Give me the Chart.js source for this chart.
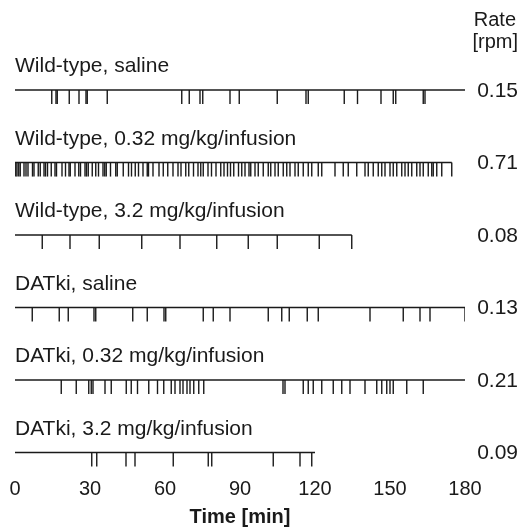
<!DOCTYPE html>
<html>
<head>
<meta charset="utf-8">
<script src="https://cdn.jsdelivr.net/npm/chart.js@4.4.1/dist/chart.umd.min.js"></script>
<style>
  html, body { margin: 0; padding: 0; background: #fff; }
  #wrap { width: 529px; height: 529px; }
</style>
</head>
<body>
<div id="wrap"><canvas id="raster" width="529" height="529"></canvas></div>
<script>
// row labels, rates and session lengths (min)
const groups = [
    "Wild-type, saline",
    "Wild-type, 0.32 mg/kg/infusion",
    "Wild-type, 3.2 mg/kg/infusion",
    "DATki, saline",
    "DATki, 0.32 mg/kg/infusion",
    "DATki, 3.2 mg/kg/infusion"
];
const rates = ["0.15", "0.71", "0.08", "0.13", "0.21", "0.09"];
const sessionEnd = [180, 174.7, 134.7, 180, 180, 120];
const timeTicks = [0, 30, 60, 90, 120, 150, 180];

// infusion times (min)
const wtSaline = [14.7, 16.4, 16.9, 21.7, 25.6, 28.4, 28.9, 36.9, 66.7, 69.7, 74, 75.1, 86, 89.7,
    104.9, 116.4, 117.3, 131.7, 137, 146.4, 151.3, 152.3, 163.3, 164];
const wtLow = [0.3, 0.8, 1.5, 2.1, 3.6, 4.4, 5.2, 7.0, 7.6, 9.3, 10.1, 11.6, 12.2, 13.0, 14.5, 16.0,
    16.6, 18.8, 20.2, 21.6, 22.1, 24.0, 25.5, 26.2, 28.0, 28.6, 29.3, 30.9, 32.3, 33.4, 35.2, 35.9,
    36.5, 38.2, 40.3, 40.9, 43.3, 45.4, 46.6, 48.1, 49.4, 51.2, 52.9, 53.4, 55.2, 57.6, 59.3, 61.1,
    63.2, 65.2, 66.4, 68.3, 69.5, 71.4, 73.2, 74.3, 75.3, 77.2, 78.6, 80.4, 82.3, 83.6, 85.0, 86.2,
    87.5, 89.4, 90.7, 92.0, 93.6, 94.3, 96.0, 97.3, 99.3, 101.3, 102.3, 104, 105.3, 107.3, 108.7,
    110, 112, 113.3, 115.3, 117.3, 118.7, 121.3, 122.7, 128, 131.3, 133.3, 136.7, 140, 141.3, 143.3,
    145.3, 146.7, 148, 150, 151.3, 152.7, 154.7, 156, 157.3, 158.7, 160.7, 162, 163.3, 165.3, 166.7,
    167.3, 168.7, 170.7, 174.7];
const wtHigh = [10.9, 22, 33.7, 50.7, 66, 80.7, 93.3, 104.9, 121.7, 134.7];
const datSaline = [6.9, 17.7, 21.3, 31.6, 32.3, 47.1, 52.9, 59.6, 60.3, 75.3, 79.3, 86,
    101.3, 106.7, 109.7, 116.9, 121.3, 142, 155.3, 162, 166, 180];
const datLow = [18.5, 24.5, 29.5, 30.5, 31.2, 36, 38.5, 44.5, 46.5, 49, 53.5, 57, 59.5, 62.5, 64,
    66, 67.2, 68.8, 70, 71.5, 73.5, 75.5, 107.2, 108, 115.3, 117.3, 119.3, 122.7, 127.3, 130.7, 134,
    140, 144.7, 146.7, 148.7, 150, 151.3, 156.7, 163.3];
const datHigh = [30.7, 32.7, 44.4, 48, 63.3, 77.3, 78.7, 103.3, 114, 118.7];

const events = [wtSaline, wtLow, wtHigh, datSaline, datLow, datHigh];

const ROW_TOP = 6;          // y value of first row, rows go down by 1
const TICK_HALF = 0.097;    // half tick length in y units
const ink = "#1a1a1a";
const FONT = "'Liberation Sans', Arial, sans-serif";

const datasets = [];
groups.forEach((g, i) => {
    const yRow = ROW_TOP - i;
    datasets.push({
        type: "line",
        data: [{ x: 0, y: yRow }, { x: sessionEnd[i], y: yRow }],
        borderColor: ink,
        borderWidth: 1.5,
        pointRadius: 0
    });
    datasets.push({
        type: "scatter",
        data: events[i].map(t => ({ x: t, y: yRow - TICK_HALF })),
        pointStyle: "line",
        rotation: 90,
        pointRadius: 7,
        borderColor: ink,
        borderWidth: 1.4
    });
});

// row names above each line, rates at right, and the "Rate [rpm]" header
const labelsPlugin = {
    id: "rowLabels",
    afterDraw(chart) {
        const { ctx, scales } = chart;
        ctx.save();
        ctx.fillStyle = ink;
        ctx.font = "21px " + FONT;
        groups.forEach((g, i) => {
            const y = scales.y.getPixelForValue(ROW_TOP - i);
            ctx.textAlign = "left";
            ctx.textBaseline = "alphabetic";
            ctx.fillText(g, 15, y - 18);
            ctx.textAlign = "right";
            ctx.textBaseline = "middle";
            ctx.fillText(rates[i], 518, y + 1);
        });
        ctx.font = "20px " + FONT;
        ctx.fillText("Rate", 516, 20);
        ctx.fillText("[rpm]", 518, 42);
        ctx.restore();
    }
};

new Chart(document.getElementById("raster").getContext("2d"), {
    type: "scatter",
    data: { datasets },
    options: {
        responsive: false,
        animation: false,
        layout: { padding: { left: 15, right: 64, top: 20, bottom: 0 } },
        plugins: { legend: { display: false }, tooltip: { enabled: false } },
        scales: {
            x: {
                type: "linear",
                min: 0,
                max: 180,
                afterBuildTicks: axis => { axis.ticks = timeTicks.map(v => ({ value: v })); },
                grid: { display: false, drawTicks: false },
                border: { display: false },
                ticks: { padding: 2, color: ink, font: { size: 20, family: FONT } },
                title: {
                    display: true,
                    text: "Time [min]",
                    color: ink,
                    padding: { top: 2, bottom: 0 },
                    font: { size: 20, weight: "bold", family: FONT }
                }
            },
            y: { display: false, min: 0.69, max: 6.966 }
        }
    },
    plugins: [labelsPlugin]
});
</script>
</body>
</html>
